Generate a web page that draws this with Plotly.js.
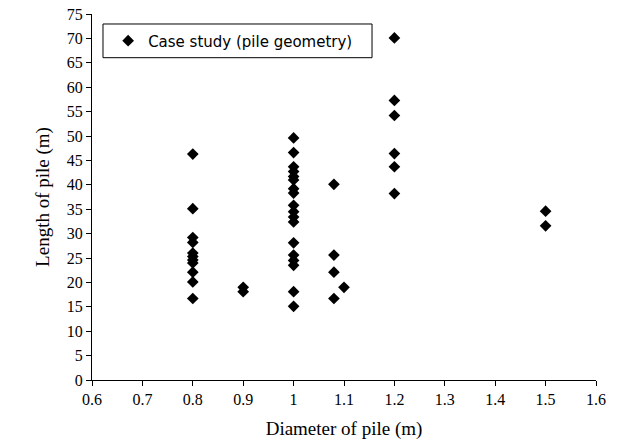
<!DOCTYPE html>
<html>
<head>
<meta charset="utf-8">
<script src="https://cdn.plot.ly/plotly-3.0.1.min.js"></script>
<style>html,body{margin:0;padding:0;background:#fff;}#chart{width:619px;height:441px;}</style>
</head>
<body>
<div id="chart"></div>
<script>
// Pile diameter (m) and length (m) for each case
var diameter = [0.8,0.8,0.8,0.8,0.8,0.8,0.8,0.8,0.8,0.8,0.8,
  0.9,0.9,
  1.0,1.0,1.0,1.0,1.0,1.0,1.0,1.0,1.0,1.0,1.0,1.0,1.0,1.0,1.0,1.0,1.0,1.0,
  1.08,1.08,1.08,1.08,1.1,
  1.2,1.2,1.2,1.2,1.2,1.2,
  1.5,1.5];
var length = [46.3,35.1,29.2,28.2,26.0,25.3,24.6,24.0,22.1,20.1,16.7,
  19.0,18.1,
  49.6,46.6,43.7,42.7,41.7,41.0,39.2,38.3,35.8,34.5,33.4,32.4,28.1,25.6,24.5,23.5,18.1,15.1,
  40.1,25.6,22.1,16.7,19.0,
  70.1,57.3,54.2,46.4,43.7,38.2,
  34.6,31.6];
var seriesName = "Case study (pile geometry)";
var xTitle = "Diameter of pile (m)";
var yTitle = "Length of pile (m)";

var trace = {
  x: diameter, y: length, type: 'scatter', mode: 'markers', name: seriesName,
  marker: {symbol: 'diamond', size: 9, color: '#000'}
};
var serif = 'Liberation Serif, Times New Roman, serif';
var axisFont = {family: serif, size: 16, color: '#000'};
var layout = {
  width: 619, height: 441,
  margin: {l: 92, r: 23, t: 14, b: 61},
  paper_bgcolor: '#fff', plot_bgcolor: '#fff',
  showlegend: true,
  legend: {x: 0.032, y: 0.9265, xanchor: 'left', yanchor: 'middle',
    borderwidth: 0, bgcolor: 'rgba(0,0,0,0)',
    font: {family: 'DejaVu Sans, sans-serif', size: 15, color: '#000'},
    itemwidth: 30},
  shapes: [{type: 'rect', xref: 'paper', yref: 'paper',
    x0: 0.0218, x1: 0.5556, y0: 0.8806, y1: 0.9727,
    line: {color: '#000', width: 1}, fillcolor: 'rgba(0,0,0,0)', layer: 'below'}],
  xaxis: {range: [0.6, 1.6], dtick: 0.1, tick0: 0.6, showgrid: false, zeroline: false,
    showline: true, linecolor: '#000', linewidth: 1, ticks: 'outside', ticklen: 5, tickcolor: '#000',
    tickfont: axisFont,
    title: {text: xTitle, font: {family: serif, size: 19, color: '#000'}, standoff: 14}},
  yaxis: {range: [0, 75], dtick: 5, tick0: 0, showgrid: false, zeroline: false,
    showline: true, linecolor: '#000', linewidth: 1, ticks: 'outside', ticklen: 5, tickcolor: '#000',
    tickfont: axisFont,
    title: {text: yTitle, font: {family: serif, size: 19, color: '#000'}, standoff: 12}}
};
Plotly.newPlot('chart', [trace], layout, {displayModeBar: false, staticPlot: true});
</script>
</body>
</html>
